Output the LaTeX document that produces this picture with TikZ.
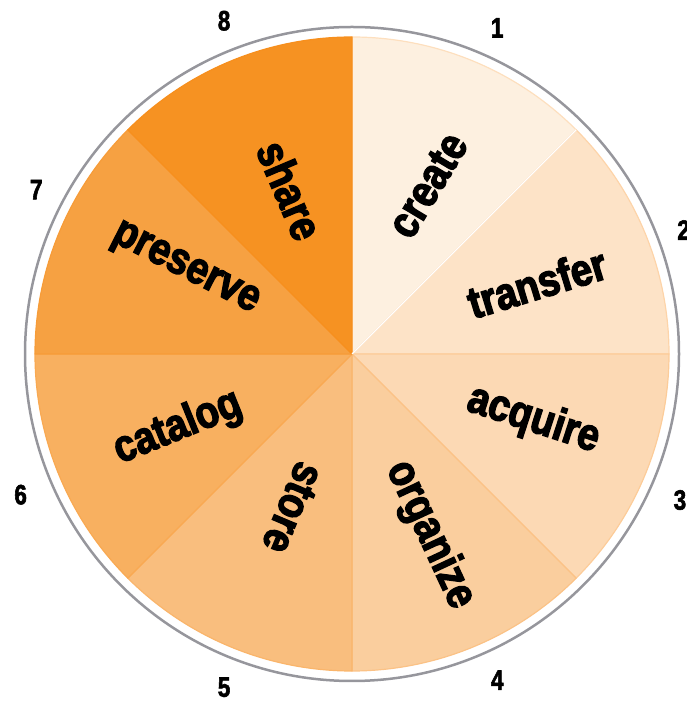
\documentclass[tikz,border=0pt]{standalone}
\usepackage{fontspec}
\usetikzlibrary{calc}
\newfontfamily\lblfont{Liberation Sans}[FakeStretch=0.85, BoldFeatures={FakeBold=3}]
\newfontfamily\numfont{Liberation Sans}[FakeStretch=0.8, BoldFeatures={FakeBold=2}]
\definecolor{cA}{RGB}{253,240,224}
\definecolor{cB}{RGB}{253,227,199}
\definecolor{cC}{RGB}{252,217,180}
\definecolor{cD}{RGB}{250,206,158}
\definecolor{cE}{RGB}{249,190,126}
\definecolor{cF}{RGB}{248,176,96}
\definecolor{cG}{RGB}{246,161,66}
\definecolor{cH}{RGB}{246,146,34}
\definecolor{rim}{RGB}{150,150,156}
\tikzset{
  wedge/.style={fill=#1, draw=#1!85!orange, line width=1.2pt, line join=round},
  word/.style={font=\lblfont\bfseries\fontsize{45}{48}\selectfont, inner sep=0pt, text=black},
  num/.style={font=\numfont\bfseries\fontsize{28}{30}\selectfont, inner sep=0pt, text=black}
}
\begin{document}
\begin{tikzpicture}[x=1pt,y=1pt]
\useasboundingbox (0,0) rectangle (687,704);
\coordinate (C) at (352,350);
\draw[rim, line width=2.5pt] (C) circle (327);
% wedges
\draw[wedge=cA] (C) -- ++(90:317) arc (90:45:317) -- cycle;
\draw[wedge=cB] (C) -- ++(45:317) arc (45:0:317) -- cycle;
\draw[wedge=cC] (C) -- ++(0:317) arc (0:-45:317) -- cycle;
\draw[wedge=cD] (C) -- ++(-45:317) arc (-45:-90:317) -- cycle;
\draw[wedge=cE] (C) -- ++(-90:317) arc (-90:-135:317) -- cycle;
\draw[wedge=cF] (C) -- ++(-135:317) arc (-135:-180:317) -- cycle;
\draw[wedge=cG] (C) -- ++(180:317) arc (180:135:317) -- cycle;
\draw[wedge=cH] (C) -- ++(135:317) arc (135:90:317) -- cycle;
\coordinate (d12) at ($(C)+(45:317)$);
\draw[white, line width=1.2pt] (C) -- (d12);
% words
\node[word, rotate=59]   (w1) at ($(C)+(65.8:185)$) {create};
\node[word, rotate=17]   (w2) at ($(C)+(21:198)$) {transfer};
\node[word, rotate=-18]  (w3) at ($(C)+(-20:193)$) {acquire};
\node[word, rotate=-65]  (w4) at ($(C)+(-66.7:197)$) {organize};
\node[word, rotate=-113] (w5) at ($(C)+(-111:165)$) {store};
\node[word, rotate=22]   (w6) at ($(C)+(-157:189)$) {catalog};
\node[word, rotate=-27]  (w7) at ($(C)+(153.3:187)$) {preserve};
\node[word, rotate=-67]  (w8) at ($(C)+(110.7:175)$) {share};
% numbers
\node[num] (n1) at ($(C)+(66:357)$) {1};
\node[num] (n2) at ($(C)+(20.5:354)$) {2};
\node[num] (n3) at ($(C)+(-24:359)$) {3};
\node[num] (n4) at ($(C)+(-66:357)$) {4};
\node[num] (n5) at ($(C)+(-111:357)$) {5};
\node[num] (n6) at ($(C)+(-157:360)$) {6};
\node[num] (n7) at ($(C)+(152.5:356)$) {7};
\node[num] (n8) at ($(C)+(111:357)$) {8};
\end{tikzpicture}
\end{document}
